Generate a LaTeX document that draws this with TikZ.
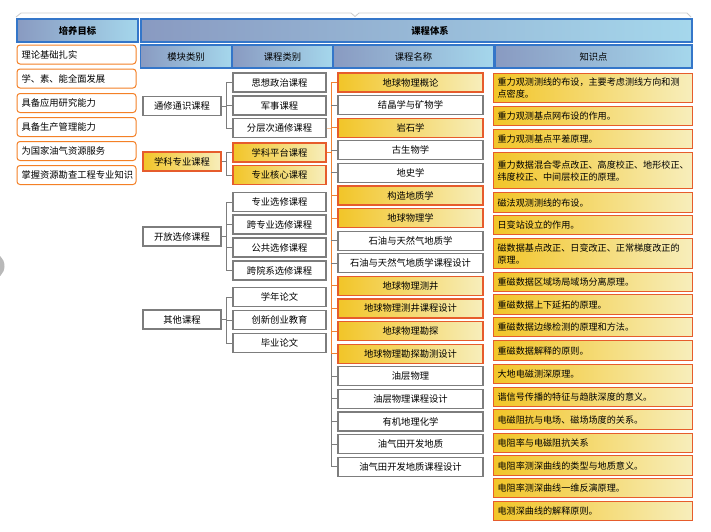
\documentclass[tikz,border=0pt]{standalone}
\usepackage{fontspec}
\newfontfamily\cjk{Noto Sans CJK SC}
\usetikzlibrary{positioning,calc}
\definecolor{hdrL}{RGB}{137,154,193}
\definecolor{hdrR}{RGB}{165,215,236}
\definecolor{hdrLine}{RGB}{52,118,201}
\definecolor{goldL}{RGB}{242,197,40}
\definecolor{goldR}{RGB}{247,238,188}
\definecolor{hotLine}{RGB}{230,92,44}
\definecolor{goalLine}{RGB}{244,128,38}
\definecolor{boxGray}{RGB}{125,125,125}
\definecolor{linkOrange}{RGB}{240,130,50}

\begin{document}
\begin{tikzpicture}[x=1pt, y=-1pt,
    every node/.style={font=\cjk\fontsize{9.3}{12}\selectfont, inner sep=0pt},
    head/.style={draw=hdrLine, line width=1.2pt, left color=hdrL, right color=hdrR, minimum height=23pt},
    headfont/.style={font=\cjk\bfseries\fontsize{9.3}{12}\selectfont},
    goal/.style={draw=goalLine, line width=1pt, rounded corners=3pt, fill=white, minimum width=119pt, minimum height=19pt, text width=110pt, align=left},
    plainbox/.style={draw=boxGray, line width=1.2pt, fill=white, minimum height=19pt},
    modbox/.style={plainbox, minimum width=78pt},
    catbox/.style={plainbox, minimum width=93pt},
    namebox/.style={plainbox, minimum width=145pt},
    hot/.style={draw=hotLine, left color=goldL, right color=goldR},
    know/.style={draw=hotLine, line width=1.2pt, left color=goldL, right color=goldR, anchor=north west, minimum width=199pt, minimum height=19pt, text width=191pt, inner xsep=4pt, align=left, font=\cjk\fontsize{9.1}{12}\selectfont},
    brk/.style={draw=boxGray, line width=1pt},
    hotlink/.style={draw=linkOrange, line width=1pt}
]
\fill[white] (0,0) rectangle (711,531);
\useasboundingbox (0,0) rectangle (711,531);
\begin{scope}
\clip (0,0) rectangle (711,531);
\fill[gray!55] (-9,266) circle (13.5);
\end{scope}
\draw[gray!40, line width=0.8pt] (16,17) -- (21,13) -- (351,13) -- (355,16.5) -- (359,13) -- (687,13) -- (691,17);

\node[head, headfont, minimum width=121pt] (hGoal) at (77.5,30.5) {培养目标};
\node[head, headfont, minimum width=551pt] (hSys) at (416.5,30.5) {\hspace*{27pt}课程体系};
\node[head, minimum width=91pt] (hMod) at (186,56.5) {模块类别};
\node[head, minimum width=100pt] (hCat) at (282.5,56.5) {课程类别};
\node[head, minimum width=161pt] (hName) at (413.5,56.5) {课程名称};
\node[head, minimum width=197pt] (hKnow) at (593.5,56.5) {知识点};

\node[goal] (g1) at (76.5,54.5) {理论基础扎实};
\node[goal] (g2) at (76.5,78.5) {学、素、能全面发展};
\node[goal] (g3) at (76.5,103) {具备应用研究能力};
\node[goal] (g4) at (76.5,127) {具备生产管理能力};
\node[goal] (g5) at (76.5,151) {为国家油气资源服务};
\node[goal] (g6) at (76.5,175) {掌握资源勘查工程专业知识};

\node[modbox] (m1) at (182,106) {通修通识课程};
\node[modbox, hot] (m2) at (182,161.5) {学科专业课程};
\node[modbox] (m3) at (182,236.5) {开放选修课程};
\node[modbox] (m4) at (182,319.5) {其他课程};

\node[catbox] (c1) at (279.5,82.5) {思想政治课程};
\node[catbox] (c2) at (279.5,105.5) {军事课程};
\node[catbox] (c3) at (279.5,128) {分层次通修课程};
\node[catbox, hot] (c4) at (279.5,152.5) {学科平台课程};
\node[catbox, hot] (c5) at (279.5,175) {专业核心课程};
\node[catbox] (c6) at (279.5,202) {专业选修课程};
\node[catbox] (c7) at (279.5,224.5) {跨专业选修课程};
\node[catbox] (c8) at (279.5,247.5) {公共选修课程};
\node[catbox] (c9) at (279.5,270.5) {跨院系选修课程};
\node[catbox] (c10) at (279.5,297) {学年论文};
\node[catbox] (c11) at (279.5,320) {创新创业教育};
\node[catbox] (c12) at (279.5,343) {毕业论文};

\node[namebox, hot] (n1) at (410.5,82.5) {地球物理概论};
\node[namebox] (n2) at (410.5,105.1) {结晶学与矿物学};
\node[namebox, hot] (n3) at (410.5,127.7) {岩石学};
\node[namebox] (n4) at (410.5,150.3) {古生物学};
\node[namebox] (n5) at (410.5,172.9) {地史学};
\node[namebox, hot] (n6) at (410.5,195.5) {构造地质学};
\node[namebox, hot] (n7) at (410.5,218.1) {地球物理学};
\node[namebox] (n8) at (410.5,240.7) {石油与天然气地质学};
\node[namebox] (n9) at (410.5,263.3) {石油与天然气地质学课程设计};
\node[namebox, hot] (n10) at (410.5,285.9) {地球物理测井};
\node[namebox, hot] (n11) at (410.5,308.5) {地球物理测井课程设计};
\node[namebox, hot] (n12) at (410.5,331.1) {地球物理勘探};
\node[namebox, hot] (n13) at (410.5,353.7) {地球物理勘探勘测设计};
\node[namebox] (n14) at (410.5,376.3) {油层物理};
\node[namebox] (n15) at (410.5,398.9) {油层物理课程设计};
\node[namebox] (n16) at (410.5,421.5) {有机地理化学};
\node[namebox] (n17) at (410.5,444.1) {油气田开发地质};
\node[namebox] (n18) at (410.5,466.7) {油气田开发地质课程设计};

\node[know, minimum height=29pt] (k1) at (493,73) {重力观测测线的布设，主要考虑测线方向和测\\点密度。};
\node[know] (k2) at (493,106) {重力观测基点网布设的作用。};
\node[know] (k3) at (493,129) {重力观测基点平差原理。};
\node[know, minimum height=36pt] (k4) at (493,152) {重力数据混合零点改正、高度校正、地形校正、\\纬度校正、中间层校正的原理。};
\node[know, minimum height=20pt] (k5) at (493,192) {磁法观测测线的布设。};
\node[know] (k6) at (493,215) {日变站设立的作用。};
\node[know, minimum height=30pt] (k7) at (493,238) {磁数据基点改正、日变改正、正常梯度改正的\\原理。};
\node[know] (k8) at (493,272) {重磁数据区域场局域场分离原理。};
\node[know, minimum height=20pt] (k9) at (493,294) {重磁数据上下延拓的原理。};
\node[know] (k10) at (493,317) {重磁数据边缘检测的原理和方法。};
\node[know, minimum height=20pt] (k11) at (493,340) {重磁数据解释的原则。};
\node[know] (k12) at (493,364) {大地电磁测深原理。};
\node[know] (k13) at (493,387) {谐信号传播的特征与趋肤深度的意义。};
\node[know, minimum height=20pt] (k14) at (493,409) {电磁阻抗与电场、磁场场度的关系。};
\node[know] (k15) at (493,433) {电阻率与电磁阻抗关系};
\node[know, minimum height=20pt] (k16) at (493,455) {电阻率测深曲线的类型与地质意义。};
\node[know] (k17) at (493,478) {电阻率测深曲线一维反演原理。};
\node[know] (k18) at (493,501) {电测深曲线的解释原则。};

\coordinate (b1) at ([xshift=-6pt]c1.west);
\coordinate (b2) at ([xshift=-6pt]c4.west);
\coordinate (b3) at ([xshift=-6pt]c6.west);
\coordinate (b4) at ([xshift=-6pt]c10.west);
\coordinate (trunk) at ([xshift=-6pt]n1.west);
\coordinate (split) at ([xshift=-6pt]n13.west);

\draw[brk] (m1.east) -- (m1.east -| b1);
\draw[brk] (c1.west) -- (b1) |- (c3.west);
\draw[brk] (c2.west) -- (c2.west -| b1);
\draw[brk] (m2.east) -- (m2.east -| b2);
\draw[brk] (c4.west) -- (b2) |- (c5.west);
\draw[brk] (m3.east) -- (m3.east -| b3);
\draw[brk] (c6.west) -- (b3) |- (c9.west);
\draw[brk] (c7.west) -- (c7.west -| b3);
\draw[brk] (c8.west) -- (c8.west -| b3);
\draw[brk] (m4.east) -- (m4.east -| b4);
\draw[brk] (c10.west) -- (b4) |- (c12.west);
\draw[brk] (c11.west) -- (c11.west -| b4);

\draw[hotlink, draw=linkOrange!50] (c3.east) -- (c3.east -| trunk);
\draw[hotlink] (c4.east) -- (c4.east -| trunk);
\draw[brk] (split) |- (n18.west);
\draw[hotlink] (n1.west) -- (trunk) -- (split) -- (n13.west);
\draw[hotlink] (n3.west) -- (n3.west -| trunk);
\draw[hotlink] (n6.west) -- (n6.west -| trunk);
\draw[hotlink] (n7.west) -- (n7.west -| trunk);
\draw[hotlink] (n10.west) -- (n10.west -| trunk);
\draw[hotlink] (n11.west) -- (n11.west -| trunk);
\draw[hotlink] (n12.west) -- (n12.west -| trunk);
\draw[brk] (n2.west) -- (n2.west -| trunk);
\draw[brk] (n4.west) -- (n4.west -| trunk);
\draw[brk] (n5.west) -- (n5.west -| trunk);
\draw[brk] (n8.west) -- (n8.west -| trunk);
\draw[brk] (n9.west) -- (n9.west -| trunk);
\draw[brk] (n14.west) -- (n14.west -| trunk);
\draw[brk] (n15.west) -- (n15.west -| trunk);
\draw[brk] (n16.west) -- (n16.west -| trunk);
\draw[brk] (n17.west) -- (n17.west -| trunk);
\end{tikzpicture}
\end{document}
